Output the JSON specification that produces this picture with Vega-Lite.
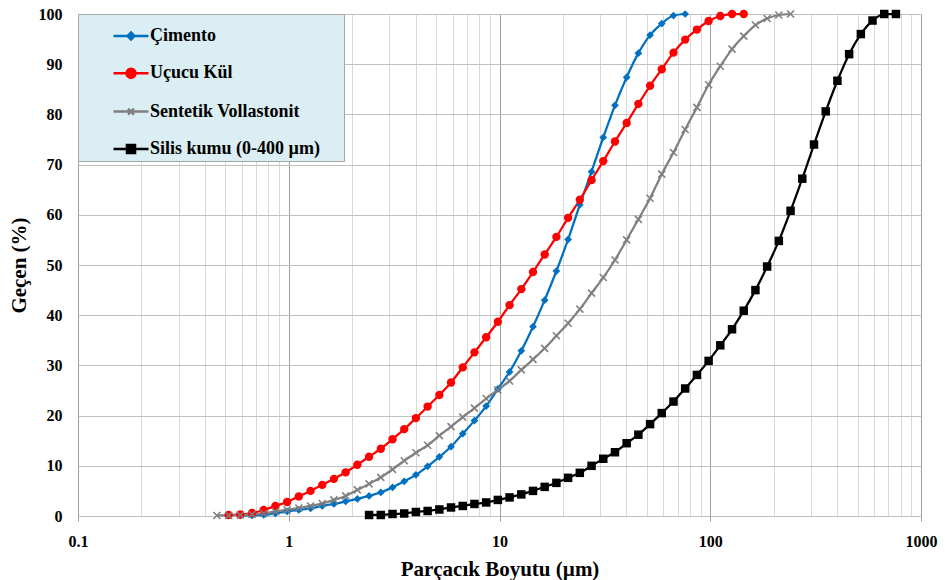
{
  "$schema": "https://vega.github.io/schema/vega-lite/v6.json",
  "width": 843,
  "height": 502,
  "autosize": "none",
  "padding": {"left": 78, "top": 14, "right": 24, "bottom": 64},
  "background": "white",
  "config": {
    "view": {"stroke": null},
    "axis": {
      "labelFont": "Liberation Serif", "labelFontWeight": "bold", "labelFontSize": 16, "labelColor": "#000000",
      "titleFont": "Liberation Serif", "titleFontWeight": "bold", "titleFontSize": 21, "titleColor": "#000000",
      "domain": false
    }
  },
  "data": {"values": [
    {"s":"Çimento","x":0.5888,"y":0.1},{"s":"Çimento","x":0.6692,"y":0.1},{"s":"Çimento","x":0.7605,"y":0.2},{"s":"Çimento","x":0.8644,"y":0.5},{"s":"Çimento","x":0.9822,"y":0.9},{"s":"Çimento","x":1.116,"y":1.2},{"s":"Çimento","x":1.269,"y":1.5},{"s":"Çimento","x":1.442,"y":2.0},{"s":"Çimento","x":1.638,"y":2.4},{"s":"Çimento","x":1.862,"y":2.9},{"s":"Çimento","x":2.116,"y":3.4},{"s":"Çimento","x":2.405,"y":4.0},{"s":"Çimento","x":2.734,"y":4.7},{"s":"Çimento","x":3.107,"y":5.7},{"s":"Çimento","x":3.531,"y":6.9},{"s":"Çimento","x":4.012,"y":8.2},{"s":"Çimento","x":4.56,"y":9.9},{"s":"Çimento","x":5.183,"y":11.8},{"s":"Çimento","x":5.888,"y":13.8},{"s":"Çimento","x":6.692,"y":16.4},{"s":"Çimento","x":7.605,"y":19.0},{"s":"Çimento","x":8.644,"y":21.9},{"s":"Çimento","x":9.822,"y":25.3},{"s":"Çimento","x":11.16,"y":28.7},{"s":"Çimento","x":12.69,"y":32.9},{"s":"Çimento","x":14.42,"y":37.7},{"s":"Çimento","x":16.38,"y":43.0},{"s":"Çimento","x":18.62,"y":48.8},{"s":"Çimento","x":21.16,"y":55.1},{"s":"Çimento","x":24.05,"y":62.0},{"s":"Çimento","x":27.34,"y":68.6},{"s":"Çimento","x":31.07,"y":75.4},{"s":"Çimento","x":35.31,"y":81.8},{"s":"Çimento","x":40.12,"y":87.4},{"s":"Çimento","x":45.6,"y":92.2},{"s":"Çimento","x":51.83,"y":95.8},{"s":"Çimento","x":58.88,"y":98.1},{"s":"Çimento","x":66.92,"y":99.7},{"s":"Çimento","x":76.05,"y":100},
    {"s":"Uçucu Kül","x":0.5183,"y":0.2},{"s":"Uçucu Kül","x":0.5888,"y":0.3},{"s":"Uçucu Kül","x":0.6692,"y":0.6},{"s":"Uçucu Kül","x":0.7605,"y":1.2},{"s":"Uçucu Kül","x":0.8644,"y":2.0},{"s":"Uçucu Kül","x":0.9822,"y":2.8},{"s":"Uçucu Kül","x":1.116,"y":3.9},{"s":"Uçucu Kül","x":1.269,"y":5.0},{"s":"Uçucu Kül","x":1.442,"y":6.2},{"s":"Uçucu Kül","x":1.638,"y":7.4},{"s":"Uçucu Kül","x":1.862,"y":8.7},{"s":"Uçucu Kül","x":2.116,"y":10.2},{"s":"Uçucu Kül","x":2.405,"y":11.8},{"s":"Uçucu Kül","x":2.734,"y":13.4},{"s":"Uçucu Kül","x":3.107,"y":15.3},{"s":"Uçucu Kül","x":3.531,"y":17.3},{"s":"Uçucu Kül","x":4.012,"y":19.5},{"s":"Uçucu Kül","x":4.56,"y":21.8},{"s":"Uçucu Kül","x":5.183,"y":24.1},{"s":"Uçucu Kül","x":5.888,"y":26.6},{"s":"Uçucu Kül","x":6.692,"y":29.6},{"s":"Uçucu Kül","x":7.605,"y":32.6},{"s":"Uçucu Kül","x":8.644,"y":35.6},{"s":"Uçucu Kül","x":9.822,"y":38.7},{"s":"Uçucu Kül","x":11.16,"y":42.0},{"s":"Uçucu Kül","x":12.69,"y":45.2},{"s":"Uçucu Kül","x":14.42,"y":48.6},{"s":"Uçucu Kül","x":16.38,"y":52.1},{"s":"Uçucu Kül","x":18.62,"y":55.6},{"s":"Uçucu Kül","x":21.16,"y":59.4},{"s":"Uçucu Kül","x":24.05,"y":63.0},{"s":"Uçucu Kül","x":27.34,"y":66.9},{"s":"Uçucu Kül","x":31.07,"y":70.7},{"s":"Uçucu Kül","x":35.31,"y":74.6},{"s":"Uçucu Kül","x":40.12,"y":78.3},{"s":"Uçucu Kül","x":45.6,"y":82.1},{"s":"Uçucu Kül","x":51.83,"y":85.7},{"s":"Uçucu Kül","x":58.88,"y":89.0},{"s":"Uçucu Kül","x":66.92,"y":92.3},{"s":"Uçucu Kül","x":76.05,"y":94.9},{"s":"Uçucu Kül","x":86.44,"y":96.9},{"s":"Uçucu Kül","x":98.22,"y":98.6},{"s":"Uçucu Kül","x":111.6,"y":99.6},{"s":"Uçucu Kül","x":126.9,"y":100},{"s":"Uçucu Kül","x":144.2,"y":100},
    {"s":"Sentetik Vollastonit","x":0.456,"y":0.1},{"s":"Sentetik Vollastonit","x":0.5183,"y":0.1},{"s":"Sentetik Vollastonit","x":0.5888,"y":0.2},{"s":"Sentetik Vollastonit","x":0.6692,"y":0.3},{"s":"Sentetik Vollastonit","x":0.7605,"y":0.5},{"s":"Sentetik Vollastonit","x":0.8644,"y":0.9},{"s":"Sentetik Vollastonit","x":0.9822,"y":1.2},{"s":"Sentetik Vollastonit","x":1.116,"y":1.6},{"s":"Sentetik Vollastonit","x":1.269,"y":2.0},{"s":"Sentetik Vollastonit","x":1.442,"y":2.5},{"s":"Sentetik Vollastonit","x":1.638,"y":3.2},{"s":"Sentetik Vollastonit","x":1.862,"y":4.0},{"s":"Sentetik Vollastonit","x":2.116,"y":5.2},{"s":"Sentetik Vollastonit","x":2.405,"y":6.4},{"s":"Sentetik Vollastonit","x":2.734,"y":7.7},{"s":"Sentetik Vollastonit","x":3.107,"y":9.3},{"s":"Sentetik Vollastonit","x":3.531,"y":11.0},{"s":"Sentetik Vollastonit","x":4.012,"y":12.6},{"s":"Sentetik Vollastonit","x":4.56,"y":14.1},{"s":"Sentetik Vollastonit","x":5.183,"y":16.0},{"s":"Sentetik Vollastonit","x":5.888,"y":17.8},{"s":"Sentetik Vollastonit","x":6.692,"y":19.7},{"s":"Sentetik Vollastonit","x":7.605,"y":21.5},{"s":"Sentetik Vollastonit","x":8.644,"y":23.4},{"s":"Sentetik Vollastonit","x":9.822,"y":25.1},{"s":"Sentetik Vollastonit","x":11.16,"y":26.9},{"s":"Sentetik Vollastonit","x":12.69,"y":29.1},{"s":"Sentetik Vollastonit","x":14.42,"y":31.2},{"s":"Sentetik Vollastonit","x":16.38,"y":33.4},{"s":"Sentetik Vollastonit","x":18.62,"y":35.9},{"s":"Sentetik Vollastonit","x":21.16,"y":38.4},{"s":"Sentetik Vollastonit","x":24.05,"y":41.2},{"s":"Sentetik Vollastonit","x":27.34,"y":44.4},{"s":"Sentetik Vollastonit","x":31.07,"y":47.5},{"s":"Sentetik Vollastonit","x":35.31,"y":51.0},{"s":"Sentetik Vollastonit","x":40.12,"y":55.0},{"s":"Sentetik Vollastonit","x":45.6,"y":59.1},{"s":"Sentetik Vollastonit","x":51.83,"y":63.3},{"s":"Sentetik Vollastonit","x":58.88,"y":68.1},{"s":"Sentetik Vollastonit","x":66.92,"y":72.4},{"s":"Sentetik Vollastonit","x":76.05,"y":77.0},{"s":"Sentetik Vollastonit","x":86.44,"y":81.4},{"s":"Sentetik Vollastonit","x":98.22,"y":85.9},{"s":"Sentetik Vollastonit","x":111.6,"y":89.6},{"s":"Sentetik Vollastonit","x":126.9,"y":93.0},{"s":"Sentetik Vollastonit","x":144.2,"y":95.6},{"s":"Sentetik Vollastonit","x":163.8,"y":97.8},{"s":"Sentetik Vollastonit","x":186.2,"y":99.1},{"s":"Sentetik Vollastonit","x":211.6,"y":99.8},{"s":"Sentetik Vollastonit","x":240.5,"y":100},
    {"s":"Silis kumu (0-400 µm)","x":2.405,"y":0.2},{"s":"Silis kumu (0-400 µm)","x":2.734,"y":0.2},{"s":"Silis kumu (0-400 µm)","x":3.107,"y":0.4},{"s":"Silis kumu (0-400 µm)","x":3.531,"y":0.5},{"s":"Silis kumu (0-400 µm)","x":4.012,"y":0.8},{"s":"Silis kumu (0-400 µm)","x":4.56,"y":1.0},{"s":"Silis kumu (0-400 µm)","x":5.183,"y":1.3},{"s":"Silis kumu (0-400 µm)","x":5.888,"y":1.7},{"s":"Silis kumu (0-400 µm)","x":6.692,"y":2.0},{"s":"Silis kumu (0-400 µm)","x":7.605,"y":2.4},{"s":"Silis kumu (0-400 µm)","x":8.644,"y":2.7},{"s":"Silis kumu (0-400 µm)","x":9.822,"y":3.2},{"s":"Silis kumu (0-400 µm)","x":11.16,"y":3.7},{"s":"Silis kumu (0-400 µm)","x":12.69,"y":4.3},{"s":"Silis kumu (0-400 µm)","x":14.42,"y":5.0},{"s":"Silis kumu (0-400 µm)","x":16.38,"y":5.8},{"s":"Silis kumu (0-400 µm)","x":18.62,"y":6.6},{"s":"Silis kumu (0-400 µm)","x":21.16,"y":7.6},{"s":"Silis kumu (0-400 µm)","x":24.05,"y":8.6},{"s":"Silis kumu (0-400 µm)","x":27.34,"y":10.0},{"s":"Silis kumu (0-400 µm)","x":31.07,"y":11.4},{"s":"Silis kumu (0-400 µm)","x":35.31,"y":12.7},{"s":"Silis kumu (0-400 µm)","x":40.12,"y":14.5},{"s":"Silis kumu (0-400 µm)","x":45.6,"y":16.2},{"s":"Silis kumu (0-400 µm)","x":51.83,"y":18.3},{"s":"Silis kumu (0-400 µm)","x":58.88,"y":20.5},{"s":"Silis kumu (0-400 µm)","x":66.92,"y":22.8},{"s":"Silis kumu (0-400 µm)","x":76.05,"y":25.4},{"s":"Silis kumu (0-400 µm)","x":86.44,"y":28.1},{"s":"Silis kumu (0-400 µm)","x":98.22,"y":30.9},{"s":"Silis kumu (0-400 µm)","x":111.6,"y":34.0},{"s":"Silis kumu (0-400 µm)","x":126.9,"y":37.2},{"s":"Silis kumu (0-400 µm)","x":144.2,"y":40.9},{"s":"Silis kumu (0-400 µm)","x":163.8,"y":45.0},{"s":"Silis kumu (0-400 µm)","x":186.2,"y":49.7},{"s":"Silis kumu (0-400 µm)","x":211.6,"y":54.8},{"s":"Silis kumu (0-400 µm)","x":240.5,"y":60.8},{"s":"Silis kumu (0-400 µm)","x":273.4,"y":67.2},{"s":"Silis kumu (0-400 µm)","x":310.7,"y":74.0},{"s":"Silis kumu (0-400 µm)","x":353.1,"y":80.6},{"s":"Silis kumu (0-400 µm)","x":401.2,"y":86.7},{"s":"Silis kumu (0-400 µm)","x":456.0,"y":92.0},{"s":"Silis kumu (0-400 µm)","x":518.3,"y":96.0},{"s":"Silis kumu (0-400 µm)","x":588.8,"y":98.7},{"s":"Silis kumu (0-400 µm)","x":669.2,"y":100},{"s":"Silis kumu (0-400 µm)","x":760.5,"y":100}
  ]},
  "encoding": {
    "x": {
      "field": "x", "type": "quantitative",
      "scale": {"type": "log", "domain": [0.1, 1000], "nice": false},
      "title": "Parçacık Boyutu (µm)",
      "axis": {
        "values": [0.1,0.2,0.3,0.4,0.5,0.6,0.7,0.8,0.9,1,2,3,4,5,6,7,8,9,10,20,30,40,50,60,70,80,90,100,200,300,400,500,600,700,800,900,1000],
        "labelExpr": "indexof([0.1,1,10,100,1000], datum.value) >= 0 ? '' + datum.value : ''",
        "grid": true,
        "gridColor": {"condition": {"test": "indexof([0.1,1,10,100,1000], datum.value) >= 0", "value": "#a0a0a0"}, "value": "#d9d9d9"},
        "gridWidth": 1,
        "ticks": true, "tickSize": 5,
        "tickColor": {"condition": {"test": "indexof([0.1,1,10,100,1000], datum.value) >= 0", "value": "#a0a0a0"}, "value": "transparent"},
        "labelPadding": 12, "titlePadding": 9, "labelFlush": false, "labelOverlap": false
      }
    },
    "y": {
      "field": "y", "type": "quantitative",
      "scale": {"domain": [0, 100], "nice": false},
      "title": "Geçen (%)",
      "axis": {
        "values": [0,10,20,30,40,50,60,70,80,90,100],
        "grid": true, "gridColor": "#bfbfbf", "ticks": false,
        "labelPadding": 16, "titlePadding": 9, "labelFlush": false
      }
    }
  },
  "layer": [
    {
      "mark": {"type": "line", "interpolate": "monotone", "strokeWidth": 2.25},
      "encoding": {
        "color": {"field": "s", "type": "nominal",
          "scale": {"domain": ["Çimento","Uçucu Kül","Sentetik Vollastonit","Silis kumu (0-400 µm)"], "range": ["#0070C0","#FF0000","#808080","#000000"]},
          "legend": {
            "title": "MM", "titleOrient": "right", "titleColor": "#DAEEF3", "titleFontSize": 11, "titleFont": "Liberation Serif", "titleFontWeight": "bold", "titlePadding": 0,
            "orient": "top-left", "offset": 0,
            "fillColor": "#DAEEF3", "strokeColor": "#a6a6a6", "padding": 3,
            "symbolOffset": 31, "symbolSize": 1225, "symbolStrokeWidth": 2.5, "symbolType": "M-1,0L1,0",
            "labelFont": "Liberation Serif", "labelFontWeight": "bold", "labelFontSize": 18, "labelColor": "#000000",
            "labelOffset": 0, "rowPadding": 9.3, "labelLimit": 400,
            "encoding": {
              "symbols": {
                "shape": {"value": {"expr": "datum.value === 'Çimento' ? 'M-1,0L1,0M0,-0.2L0.2,0L0,0.2L-0.2,0Z' : datum.value === 'Uçucu Kül' ? 'M-1,0L1,0M0.26,0L0.225,0.13L0.13,0.225L0,0.26L-0.13,0.225L-0.225,0.13L-0.26,0L-0.225,-0.13L-0.13,-0.225L0,-0.26L0.13,-0.225L0.225,-0.13Z' : datum.value === 'Sentetik Vollastonit' ? 'M-1,0L1,0M-0.17,-0.17L0.17,0.17M-0.17,0.17L0.17,-0.17' : 'M-1,0L1,0M-0.23,-0.23L0.23,-0.23L0.23,0.23L-0.23,0.23Z'"}},
                "fill": {"value": {"expr": "datum.value === 'Çimento' ? '#0070C0' : datum.value === 'Uçucu Kül' ? '#FF0000' : datum.value === 'Sentetik Vollastonit' ? '#808080' : '#000000'"}},
                "opacity": {"value": 1}
              }
            }
          }}
      }
    },
    {
      "transform": [{"filter": "datum.s == 'Çimento'"}],
      "mark": {"type": "point", "shape": "diamond", "filled": true, "color": "#0070C0", "size": 60, "opacity": 1}
    },
    {
      "transform": [{"filter": "datum.s == 'Uçucu Kül'"}],
      "mark": {"type": "point", "shape": "circle", "filled": true, "color": "#FF0000", "size": 70, "opacity": 1}
    },
    {
      "transform": [{"filter": "datum.s == 'Sentetik Vollastonit'"}],
      "mark": {"type": "point", "shape": "M-1,-1L1,1M-1,1L1,-1", "filled": false, "color": "#808080", "strokeWidth": 1.6, "size": 49, "opacity": 1}
    },
    {
      "transform": [{"filter": "datum.s == 'Silis kumu (0-400 µm)'"}],
      "mark": {"type": "point", "shape": "square", "filled": true, "color": "#000000", "size": 72, "opacity": 1}
    }
  ]
}
